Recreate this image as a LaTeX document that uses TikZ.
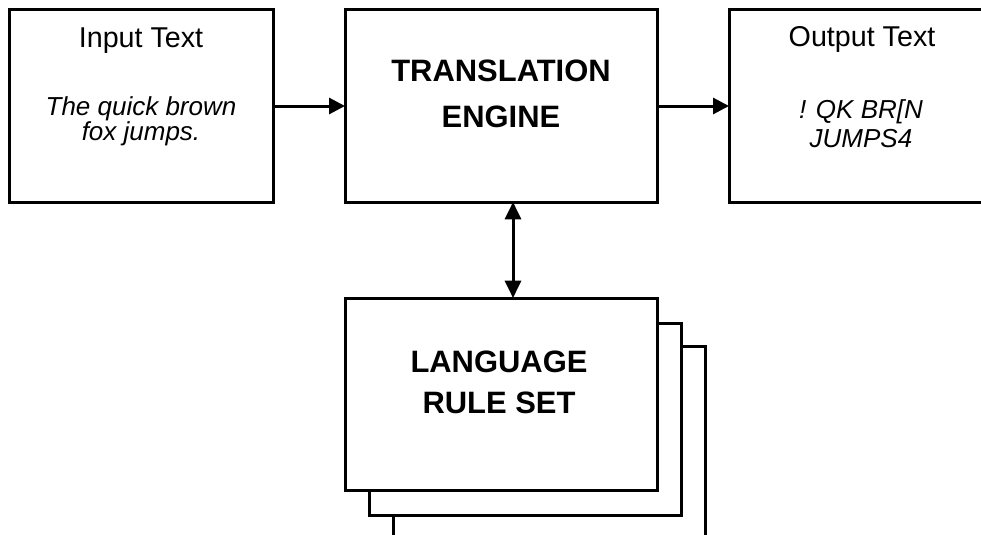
\documentclass[tikz,border=0pt]{standalone}
\usepackage{fontspec}
\setmainfont{Liberation Sans}
\usetikzlibrary{arrows.meta}
\begin{document}
\begin{tikzpicture}[x=0.75pt,y=-0.75pt,
  box/.style={draw=black,line width=2.25pt,fill=white,inner sep=0pt,outer sep=0pt,minimum height=144pt},
  widebox/.style={box,minimum width=234pt},
  narrowbox/.style={box,minimum width=198pt},
  title/.style={anchor=base,inner sep=0pt,font=\fontsize{21.5pt}{24pt}\selectfont},
  sample/.style={anchor=base,inner sep=0pt,font=\fontsize{19.5pt}{22pt}\selectfont\itshape},
  big/.style={anchor=base,inner sep=0pt,font=\fontsize{23.2pt}{26pt}\selectfont\bfseries},
  conn/.style={line width=2.25pt,-{Triangle[length=12pt,width=12pt]}},
  dconn/.style={line width=2.25pt,{Triangle[length=13pt,width=12pt]}-{Triangle[length=13pt,width=12pt]}}]
\useasboundingbox (0,0) rectangle (981,535);
\fill[white] (0,0) rectangle (981,535);
\clip (0,0) rectangle (981,535);
% stacked rule sets (back to front)
\node[widebox] (back2) at (549,442) {};
\node[widebox] (back1) at (525,419) {};
\node[widebox] (lang) at (501,394) {};
% main boxes
\node[narrowbox] (in) at (141,106) {};
\node[widebox] (trans) at (501,106) {};
\node[narrowbox] (out) at (861,106) {};
% texts
\node[title] (intitle) at (141,48) {Input Text};
\node[sample] (in1) at (141,115) {The quick brown};
\node[sample] (in2) at (141,140) {fox jumps.};
\node[big] (tr1) at (501,82) {TRANSLATION};
\node[big] (tr2) at (501,127) {ENGINE};
\node[title] (outtitle) at (862,47) {Output Text};
\node[sample] (out1) at (861,118) {! QK BR[N};
\node[sample] (out2) at (861,147) {JUMPS4};
\node[big] (la1) at (499,372) {LANGUAGE};
\node[big] (la2) at (499,413) {RULE SET};
% connectors
\draw[conn] (in.east) -- (trans.west);
\draw[conn] (trans.east) -- (out.west);
\draw[dconn] ([xshift=9pt]trans.south) -- ([xshift=9pt]lang.north);
\end{tikzpicture}
\end{document}
